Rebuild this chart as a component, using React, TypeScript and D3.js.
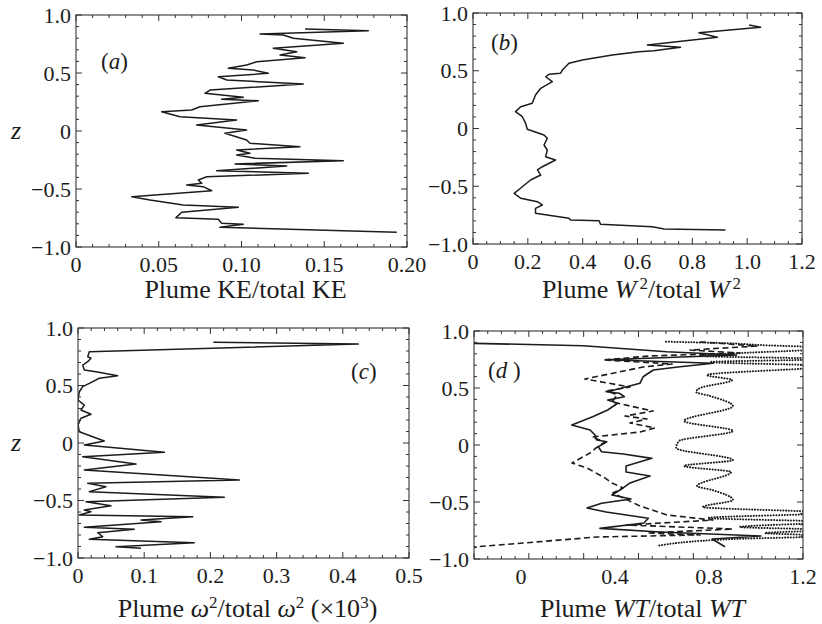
import React from 'react';
import * as d3 from 'd3';

// ---------- data: [value, z] pairs, read top to bottom ----------
const keRatio: [number, number][] = [
  [0.1384, 0.879], [0.1766, 0.865], [0.1112, 0.836], [0.1253, 0.828], [0.1313, 0.799],
  [0.1615, 0.756], [0.1192, 0.713], [0.1334, 0.684], [0.1233, 0.655], [0.1384, 0.632],
  [0.1092, 0.597], [0.1031, 0.569], [0.092, 0.541], [0.1071, 0.526], [0.1162, 0.497],
  [0.086, 0.468], [0.0911, 0.44], [0.1373, 0.405], [0.081, 0.353], [0.0779, 0.325],
  [0.1011, 0.291], [0.088, 0.273], [0.1102, 0.261], [0.0749, 0.209], [0.0699, 0.181],
  [0.0518, 0.166], [0.0628, 0.123], [0.0971, 0.095], [0.0729, 0.052], [0.1031, 0.009],
  [0.09, -0.02], [0.1031, -0.078], [0.1051, -0.106], [0.1353, -0.135], [0.0971, -0.164],
  [0.1051, -0.192], [0.0971, -0.207], [0.1082, -0.235], [0.1615, -0.256], [0.0961, -0.284],
  [0.1273, -0.302], [0.085, -0.342], [0.1404, -0.365], [0.079, -0.394], [0.0739, -0.422],
  [0.076, -0.451], [0.0669, -0.466], [0.0769, -0.48], [0.082, -0.515], [0.0337, -0.566],
  [0.0447, -0.595], [0.0648, -0.638], [0.0981, -0.658], [0.0639, -0.701], [0.0604, -0.747],
  [0.086, -0.761], [0.088, -0.796], [0.1011, -0.804], [0.087, -0.83], [0.1938, -0.873],
];

const w2Ratio: [number, number][] = [
  [1.007, 0.896], [1.049, 0.876], [0.824, 0.829], [0.891, 0.79], [0.636, 0.723],
  [0.757, 0.703], [0.66, 0.674], [0.605, 0.665], [0.508, 0.636], [0.399, 0.593],
  [0.35, 0.565], [0.326, 0.506], [0.319, 0.478], [0.277, 0.469], [0.265, 0.448],
  [0.289, 0.405], [0.247, 0.348], [0.228, 0.29], [0.216, 0.218], [0.174, 0.189],
  [0.155, 0.146], [0.18, 0.102], [0.192, 0.045], [0.198, -0.007], [0.259, -0.056],
  [0.271, -0.085], [0.259, -0.143], [0.271, -0.186], [0.265, -0.244], [0.301, -0.273],
  [0.253, -0.331], [0.235, -0.359], [0.247, -0.403], [0.21, -0.446], [0.18, -0.504],
  [0.15, -0.561], [0.174, -0.604], [0.235, -0.634], [0.253, -0.662], [0.228, -0.691],
  [0.228, -0.734], [0.35, -0.778], [0.356, -0.792], [0.46, -0.798], [0.465, -0.829],
  [0.654, -0.85], [0.697, -0.87], [0.921, -0.879],
];

const omegaRatio: [number, number][] = [
  [0.2044, 0.876], [0.4234, 0.861], [0.0171, 0.794], [0.0147, 0.75], [0.0196, 0.737],
  [0.0147, 0.707], [0.0071, 0.678], [0.0095, 0.635], [0.0272, 0.62], [0.06, 0.585],
  [0.0322, 0.563], [0.0171, 0.519], [0.0071, 0.49], [0.002, 0.446], [0.0, 0.374],
  [0.0095, 0.33], [0.0045, 0.287], [0.0196, 0.25], [0.0045, 0.215], [0.0, 0.157],
  [0.002, 0.098], [0.0222, 0.055], [0.0397, 0.017], [0.0095, -0.017], [0.1304, -0.081],
  [0.0071, -0.119], [0.0876, -0.183], [0.0095, -0.235], [0.2437, -0.322], [0.0147, -0.35],
  [0.0423, -0.38], [0.0171, -0.423], [0.221, -0.472], [0.0121, -0.51], [0.0498, -0.545],
  [0.0095, -0.583], [0.0196, -0.597], [0.002, -0.626], [0.1733, -0.641], [0.0952, -0.67],
  [0.1254, -0.684], [0.0095, -0.733], [0.085, -0.75], [0.0298, -0.78], [0.0373, -0.815],
  [0.0171, -0.837], [0.1757, -0.867], [0.0574, -0.902], [0.0952, -0.916],
];

const wtSolid: [number, number][] = [
  [-0.203, 0.892], [0.265, 0.871], [0.62, 0.818], [0.918, 0.789], [0.365, 0.748],
  [0.818, 0.717], [0.677, 0.687], [0.563, 0.658], [0.52, 0.599], [0.506, 0.541],
  [0.45, 0.511], [0.397, 0.482], [0.362, 0.468], [0.418, 0.454], [0.44, 0.424],
  [0.369, 0.395], [0.411, 0.366], [0.369, 0.307], [0.305, 0.248], [0.216, 0.175],
  [0.294, 0.132], [0.315, 0.088], [0.322, 0.044], [0.365, 0.029], [0.329, -0.015],
  [0.343, -0.059], [0.435, -0.079], [0.557, -0.117], [0.447, -0.184], [0.447, -0.237],
  [0.549, -0.272], [0.461, -0.336], [0.421, -0.395], [0.387, -0.439], [0.468, -0.474],
  [0.343, -0.511], [0.281, -0.553], [0.362, -0.588], [0.542, -0.643], [0.523, -0.684],
  [0.336, -0.731], [0.591, -0.763], [1.021, -0.798], [0.813, -0.825], [0.868, -0.892],
];

const wtDashed: [number, number][] = [
  [0.762, 0.904], [1.004, 0.868], [0.719, 0.833], [0.932, 0.807], [0.549, 0.781],
  [0.349, 0.746], [0.643, 0.711], [0.519, 0.684], [0.272, 0.579], [0.464, 0.509],
  [0.366, 0.474], [0.409, 0.439], [0.387, 0.377], [0.562, 0.298], [0.443, 0.254],
  [0.536, 0.228], [0.464, 0.193], [0.57, 0.149], [0.506, 0.114], [0.302, 0.07],
  [0.357, 0.026], [0.319, -0.026], [0.294, -0.07], [0.255, -0.114], [0.217, -0.158],
  [0.281, -0.202], [0.357, -0.289], [0.387, -0.333], [0.434, -0.377], [0.391, -0.421],
  [0.506, -0.535], [0.621, -0.614], [0.817, -0.658], [0.451, -0.702], [0.902, -0.737],
  [0.536, -0.772], [0.762, -0.789], [0.323, -0.807], [-0.2, -0.895],
];

const wtDotted: [number, number][] = [
  [0.617, 0.906], [0.847, 0.895], [1.017, 0.877], [1.315, 0.851], [0.762, 0.781],
  [1.315, 0.754], [0.804, 0.728], [1.315, 0.693], [0.791, 0.614], [0.898, 0.57],
  [0.762, 0.5], [0.745, 0.465], [0.804, 0.43], [0.902, 0.342], [0.694, 0.211],
  [0.902, 0.123], [0.672, 0.035], [0.66, -0.026], [0.902, -0.132], [0.694, -0.184],
  [0.894, -0.237], [0.749, -0.36], [0.813, -0.395], [0.902, -0.482], [0.774, -0.544],
  [1.315, -0.596], [0.796, -0.64], [1.315, -0.675], [0.932, -0.719], [1.315, -0.746],
  [1.038, -0.772], [1.315, -0.798], [0.902, -0.825], [0.579, -0.886],
];

// ---------- ticks ----------
const zMajor = [-1, -0.5, 0, 0.5, 1];
const zLabels = ['\u22121.0', '\u22120.5', '0', '0.5', '1.0'];
const aTicks = [0, 0.05, 0.1, 0.15, 0.2];
const aLabels = ['0', '0.05', '0.10', '0.15', '0.20'];
const bTicks = [0, 0.2, 0.4, 0.6, 0.8, 1.0, 1.2];
const bLabels = ['0', '0.2', '0.4', '0.6', '0.8', '1.0', '1.2'];
const cTicks = [0, 0.1, 0.2, 0.3, 0.4, 0.5];
const cLabels = ['0', '0.1', '0.2', '0.3', '0.4', '0.5'];
const dTicks = [0, 0.4, 0.8, 1.2];
const dLabels = ['0', '0.4', '0.8', '1.2'];

type Series = { data: [number, number][]; dash?: string; cap?: string; width?: number; smooth?: boolean };

type PanelProps = {
  id: string;
  left: number; right: number; top: number; bottom: number;
  xDomain: [number, number];
  tickDomain: [number, number];
  majorStep: number; minorStep: number;
  xTicks: number[]; xLabels: string[];
  series: Series[];
  tag: string; tagX: number; tagY: number;
  title: React.ReactNode; titleY: number;
  showZ: boolean;
};

const INK = '#1c1c1c';

function Panel(p: PanelProps) {
  const x = d3.scaleLinear().domain(p.xDomain).range([p.left, p.right]);
  const tx = d3.scaleLinear().domain(p.tickDomain).range([p.left, p.right]);
  const y = d3.scaleLinear().domain([-1, 1]).range([p.bottom, p.top]);
  const line = d3.line<[number, number]>().x(d => x(d[0])).y(d => y(d[1]));
  const smoothLine = d3.line<[number, number]>().x(d => x(d[0])).y(d => y(d[1])).curve(d3.curveMonotoneY);

  const nMinor = Math.round((p.tickDomain[1] - p.tickDomain[0]) / p.minorStep);
  const xMarks = d3.range(nMinor + 1).map(i => {
    const v = p.tickDomain[0] + i * p.minorStep;
    const r = (v - p.tickDomain[0]) / p.majorStep;
    return { v, major: Math.abs(r - Math.round(r)) < 1e-6 };
  });
  const zMarks = d3.range(21).map(i => ({ v: -1 + i * 0.1, major: i % 5 === 0 }));
  const clipId = 'clip-' + p.id;

  return (
    <g>
      <defs>
        <clipPath id={clipId}>
          <rect x={p.left} y={p.top} width={p.right - p.left} height={p.bottom - p.top} />
        </clipPath>
      </defs>
      <g clipPath={`url(#${clipId})`}>
        {p.series.map((s, i) => (
          <path key={i} d={(s.smooth ? smoothLine : line)(s.data) || ''} fill="none" stroke={INK}
            strokeWidth={s.width ?? 1.5} strokeDasharray={s.dash} strokeLinecap={(s.cap as any) ?? 'butt'}
            strokeLinejoin="round" />
        ))}
      </g>
      <rect x={p.left} y={p.top} width={p.right - p.left} height={p.bottom - p.top} fill="none" stroke="#333" strokeWidth={1.1} />
      {xMarks.map((m, i) => {
        const px = tx(m.v);
        const len = m.major ? 6 : 3;
        return (
          <g key={'x' + i}>
            <line x1={px} x2={px} y1={p.bottom} y2={p.bottom - len} stroke="#333" strokeWidth={1} />
            <line x1={px} x2={px} y1={p.top} y2={p.top + len} stroke="#333" strokeWidth={1} />
          </g>
        );
      })}
      {zMarks.map((m, i) => {
        const py = y(m.v);
        const len = m.major ? 6 : 3;
        return (
          <g key={'z' + i}>
            <line x1={p.left} x2={p.left + len} y1={py} y2={py} stroke="#333" strokeWidth={1} />
            <line x1={p.right} x2={p.right - len} y1={py} y2={py} stroke="#333" strokeWidth={1} />
          </g>
        );
      })}
      {p.xTicks.map((v, i) => (
        <text key={'xl' + i} x={x(v)} y={p.bottom + 25} textAnchor="middle" fontSize={22} fill={INK}>{p.xLabels[i]}</text>
      ))}
      {zMajor.map((v, i) => (
        <text key={'zl' + i} x={p.left - 5} y={y(v)} dy="0.35em" textAnchor="end" fontSize={22} fill={INK}>{zLabels[i]}</text>
      ))}
      <text x={p.tagX} y={p.tagY} fontSize={23} fill={INK}>{p.tag === 'd' ? <>(<tspan fontStyle="italic">d</tspan> )</> : <>(<tspan fontStyle="italic">{p.tag}</tspan>)</>}</text>
      <text x={(p.left + p.right) / 2 + 4} y={p.titleY} textAnchor="middle" fontSize={26} fill={INK}>{p.title}</text>
      {p.showZ && (
        <text x={16} y={y(0)} dy="0.3em" textAnchor="middle" fontSize={26} fontStyle="italic" fill={INK}>z</text>
      )}
    </g>
  );
}

export default function App() {
  return (
    <svg width={822} height={624} viewBox="0 0 822 624"
      style={{ position: 'absolute', left: 0, top: 0, background: '#fff' }}
      fontFamily="'Liberation Serif', 'Times New Roman', serif">
      <rect x={0} y={0} width={822} height={624} fill="#fff" />
      <Panel id="a" left={76} right={407} top={15} bottom={247}
        xDomain={[0, 0.2]} tickDomain={[0, 0.2]} majorStep={0.05} minorStep={0.01}
        xTicks={aTicks} xLabels={aLabels}
        series={[{ data: keRatio }]}
        tag="a" tagX={101} tagY={69}
        title={<>Plume KE/total KE</>} titleY={298} showZ={true} />
      <Panel id="b" left={473} right={802} top={13} bottom={244}
        xDomain={[0, 1.2]} tickDomain={[0, 1.2]} majorStep={0.2} minorStep={0.05}
        xTicks={bTicks} xLabels={bLabels}
        series={[{ data: w2Ratio }]}
        tag="b" tagX={491} tagY={50}
        title={<>Plume <tspan fontStyle="italic">W</tspan><tspan dx={3} dy={-9} fontSize={17}>2</tspan><tspan dy={9}>/total </tspan><tspan fontStyle="italic">W</tspan><tspan dx={3} dy={-9} fontSize={17}>2</tspan></>}
        titleY={298} showZ={false} />
      <Panel id="c" left={78} right={409} top={328} bottom={558}
        xDomain={[0, 0.5]} tickDomain={[0, 0.5]} majorStep={0.1} minorStep={0.02}
        xTicks={cTicks} xLabels={cLabels}
        series={[{ data: omegaRatio }]}
        tag="c" tagX={351} tagY={379}
        title={<>Plume <tspan fontStyle="italic">ω</tspan><tspan dy={-9} fontSize={17}>2</tspan><tspan dy={9}>/total </tspan><tspan fontStyle="italic">ω</tspan><tspan dy={-9} fontSize={17}>2</tspan><tspan dy={9}> (×10</tspan><tspan dy={-9} fontSize={17}>3</tspan><tspan dy={9}>)</tspan></>}
        titleY={617} showZ={true} />
      <Panel id="d" left={474} right={803} top={331} bottom={559}
        xDomain={[-0.2, 1.2]} tickDomain={[-0.2, 1.0]} majorStep={0.2} minorStep={0.05}
        xTicks={dTicks} xLabels={dLabels}
        series={[
          { data: wtDotted, dash: '0.1 2.7', cap: 'round', width: 2, smooth: true },
          { data: wtDashed, dash: '6 3.5', width: 1.6 },
          { data: wtSolid, width: 1.6 },
        ]}
        tag="d" tagX={488} tagY={378}
        title={<>Plume <tspan fontStyle="italic">WT</tspan>/total <tspan fontStyle="italic">WT</tspan></>}
        titleY={617} showZ={false} />
    </svg>
  );
}
